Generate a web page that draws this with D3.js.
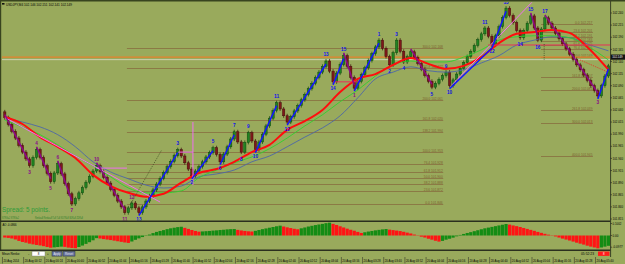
<!DOCTYPE html>
<html><head><meta charset="utf-8">
<script src="https://cdn.jsdelivr.net/npm/d3@7"></script>
<style>html,body{margin:0;padding:0;background:#99aa5c;overflow:hidden}svg{display:block}</style>
</head><body>
<script>
// ---------- DATA ----------
const closes = [
102.024,102.010,101.996,101.982,101.967,101.953,101.939,101.925,101.942,101.958,
101.942,101.925,101.909,101.892,101.910,101.929,101.908,101.888,101.867,101.846,
101.857,101.869,101.880,101.891,101.903,101.914,101.925,101.913,101.901,101.889,
101.876,101.864,101.852,101.840,101.828,101.838,101.848,101.838,101.828,101.840,
101.852,101.863,101.875,101.887,101.899,101.911,101.923,101.934,101.946,101.958,
101.945,101.931,101.918,101.904,101.914,101.923,101.933,101.943,101.952,101.962,
101.948,101.933,101.949,101.964,101.980,101.995,101.974,101.953,101.973,101.993,
101.976,101.958,101.974,101.990,102.007,102.023,102.039,102.055,102.042,102.028,
102.015,102.026,102.038,102.049,102.061,102.072,102.084,102.095,102.107,102.118,
102.130,102.141,102.120,102.098,102.116,102.134,102.152,102.130,102.107,102.085,
102.099,102.113,102.127,102.142,102.156,102.170,102.184,102.167,102.150,102.133,
102.158,102.184,102.161,102.139,102.150,102.160,102.148,102.136,102.124,102.111,
102.099,102.087,102.095,102.103,102.111,102.118,102.090,102.102,102.114,102.126,
102.138,102.150,102.161,102.173,102.185,102.197,102.209,102.192,102.174,102.193,
102.212,102.231,102.250,102.235,102.220,102.204,102.189,102.204,102.219,102.234,
102.209,102.184,102.207,102.230,102.219,102.209,102.198,102.187,102.176,102.166,
102.155,102.144,102.133,102.123,102.112,102.101,102.090,102.080,102.069,102.090,
102.110,102.131];

const aoValues = [
-0.017,-0.020,-0.025,-0.033,-0.045,-0.054,-0.060,-0.068,-0.074,-0.079,
-0.083,-0.089,-0.096,-0.102,-0.099,-0.096,-0.093,-0.095,-0.101,-0.104,
-0.106,-0.096,-0.084,-0.070,-0.056,-0.040,-0.022,-0.025,-0.030,-0.034,
-0.038,-0.043,-0.048,-0.053,-0.058,-0.062,-0.050,-0.036,-0.024,-0.013,
-0.003,0.008,0.020,0.030,0.038,0.045,0.053,0.060,0.065,0.070,
0.073,0.064,0.055,0.046,0.038,0.032,0.034,0.036,0.038,0.041,
0.043,0.046,0.048,0.051,0.053,0.054,0.047,0.042,0.038,0.035,
0.033,0.039,0.046,0.053,0.059,0.065,0.071,0.077,0.082,0.075,
0.068,0.062,0.056,0.052,0.060,0.067,0.075,0.081,0.087,0.092,
0.097,0.103,0.107,0.097,0.088,0.077,0.067,0.057,0.048,0.040,
0.030,0.021,0.027,0.033,0.038,0.043,0.047,0.051,0.054,0.049,
0.045,0.041,0.037,0.031,0.024,0.017,0.008,-0.002,-0.010,-0.017,
-0.027,-0.035,-0.044,-0.051,-0.045,-0.035,-0.027,-0.018,-0.007,0.005,
0.013,0.021,0.028,0.036,0.044,0.052,0.060,0.066,0.072,0.078,
0.084,0.090,0.096,0.091,0.084,0.078,0.071,0.063,0.055,0.047,
0.039,0.030,0.022,0.014,0.007,0.000,-0.008,-0.017,-0.026,-0.034,
-0.042,-0.051,-0.060,-0.068,-0.076,-0.085,-0.093,-0.100,-0.107,-0.100,
-0.093,-0.086];

const maBars  = [0,5,10,15,20,25,30,35,40,45,50,55,60,65,70,75,80,85,90,95,100,105,110,115,120,125,130,135,140,145,150,155,160,165,171];
const maRed   = [102.026,102.011,101.984,101.964,101.941,101.906,101.883,101.869,101.861,101.867,101.890,101.910,101.918,101.933,101.953,101.968,101.999,102.017,102.040,102.077,102.104,102.114,102.133,102.147,102.135,102.125,102.131,102.149,102.178,102.197,102.201,102.205,102.199,102.170,102.123];
const maGreen = [102.019,102.005,101.989,101.968,101.945,101.925,101.902,101.879,101.869,101.869,101.873,101.900,101.916,101.931,101.943,101.960,101.982,102.007,102.030,102.057,102.081,102.110,102.133,102.141,102.139,102.139,102.149,102.164,102.184,102.191,102.193,102.193,102.189,102.172,102.143];
const maBlue  = [102.024,102.015,102.005,101.989,101.964,101.933,101.912,101.898,101.885,101.879,101.883,101.902,101.908,101.916,101.933,101.945,101.964,101.984,102.003,102.028,102.065,102.104,102.118,102.129,102.121,102.118,102.123,102.137,102.152,102.174,102.184,102.191,102.189,102.176,102.162];

const pivotBars  = [7,9,13,15,19,26,34,36,38,49,53,59,61,65,67,69,71,77,80,91,93,96,99,106,109,111,113,121,125,126,136,138,142,146,149,151,153,168];
const pivotText  = ["3","4","5","6","7","10","11","12","13","3","2","5","6","7","8","9","10","11","12","13","14","15","1","1","2","3","4","5","9","10","11","12","13","14","15","16","17","3"];
const pivotSide  = [-1,1,-1,1,-1,1,-1,1,-1,1,-1,1,-1,1,-1,1,-1,1,-1,1,-1,1,-1,1,-1,1,-1,-1,1,-1,1,-1,1,-1,1,-1,1,-1];
const pivotTrend = ["d","d","d","d","d","d","d","d","u","u","u","u","u","u","u","u","u","u","u","u","u","u","d","u","u","u","u","u","u","u","u","u","u","u","u","u","u","d"];

const upLegs   = [[38,49],[53,59],[61,65],[71,77],[80,91],[93,96],[99,106],[126,138],[138,142],[168,171]];
const downLegs = [[0,7],[9,13],[15,19],[26,34],[96,99],[115,121],[149,151],[153,168]];

const fibLeftLevels  = [0,23.6,38.2,50,61.8,76.4,100,138.2,161.8,200,261.8,300];
const fibLeftPrices  = [101.846,101.872,101.888,101.900,101.912,101.928,101.953,101.994,102.020,102.061,102.127,102.168];
const fibLeftSpan    = [34.6,124.2];
const fibRightLevels = [0,23.6,38.2,50,61.8,76.4,100,161.8,200,261.8,300,400];
const fibRightPrices = [102.217,102.201,102.191,102.183,102.175,102.166,102.149,102.107,102.081,102.039,102.013,101.945];
const fibRightSpan   = [151.9,166.6];

// trend lines: [bar1, price1, bar2, price2]
const pinkLines = [[0.1,102.024,44.0,101.850],[126.7,102.092,149.3,102.262],[26.0,101.920,34.6,101.920],[49.1,101.953,53.3,101.953],[53.3,102.015,53.3,101.885]];
const redLevelLines = [[136.9,102.174,171.5,102.174],[93,102.098,100.5,102.098]];
const dottedLines = [[35.5,101.844,44.5,101.958],[152.8,102.176,152.8,102.143]];
const redDotted = [[163,102.143,170.9,102.118]];

const bidPrice = 102.149, askLine = 102.145;
const priceTicks = [102.240,102.215,102.190,102.165,102.140,102.115,102.090,102.065,102.040,102.015,101.990,101.965,101.940,101.915,101.890,101.865,101.840,101.815];
const aoTicks = [0.1002,0,-0.0977];
const aoTickText = ["0.1002","0.00","-0.0977"];
const timeLabels = ["20 Aug 2014","20 Aug 00:12","20 Aug 00:24","20 Aug 00:40","20 Aug 00:52","20 Aug 01:04","20 Aug 01:16","20 Aug 01:28","20 Aug 01:40","20 Aug 01:52","20 Aug 02:04","20 Aug 02:16","20 Aug 02:28","20 Aug 02:40","20 Aug 02:52","20 Aug 03:04","20 Aug 03:16","20 Aug 03:28","20 Aug 03:40","20 Aug 03:52","20 Aug 04:04","20 Aug 04:16","20 Aug 04:28","20 Aug 04:40","20 Aug 04:52","20 Aug 05:04","20 Aug 05:16","20 Aug 05:28","20 Aug 05:40"];
const timeStep = 6;
const headerText = "USDJPY,M4  102.146 102.151 102.141 102.149";
const spreadText = "Spread: 5 points.";
const aoTitle = "AO -0.0866";

// ---------- DRAW ----------
const W=625,H=264,BG="#99aa5c";
const FONT="'Liberation Sans',Arial,sans-serif";
const svg=d3.select("body").append("svg").attr("width",W).attr("height",H);
svg.append("rect").attr("width",W).attr("height",H).attr("fill",BG);

const x=d3.scaleLinear().domain([-0.5,171.5]).range([3,610.2]);
const y=d3.scaleLinear().domain([102.240,101.815]).range([13,219]);
const ya=d3.scaleLinear().domain([0.1002,-0.0977]).range([223.5,247.2]);

function tiny(g,px,py,str,o={}){
  const fs=o.fs||4;
  const t=g.append("text").attr("x",px).attr("y",py).attr("font-family",FONT)
    .attr("font-size",fs).attr("fill",o.fill||"#000").text(str);
  if(o.anchor) t.attr("text-anchor",o.anchor);
  if(o.weight) t.attr("font-weight",o.weight);
  const L=o.len!==undefined?o.len:str.length*(o.cw||1.52);
  t.attr("textLength",L).attr("lengthAdjust","spacingAndGlyphs");
  return t;
}

const defs=svg.append("defs");
defs.append("clipPath").attr("id","cm").append("rect").attr("x",2).attr("y",2).attr("width",608.5).attr("height",218.5);
defs.append("clipPath").attr("id","cs").append("rect").attr("x",2).attr("y",222).attr("width",608.5).attr("height",27.5);
const m=svg.append("g").attr("clip-path","url(#cm)");
const s=svg.append("g").attr("clip-path","url(#cs)");

// fib levels
function drawFib(levels,prices,span){
  levels.forEach((lv,k)=>{
    const yy=Math.round(y(prices[k]))+0.5;
    m.append("line").attr("x1",x(span[0])).attr("x2",x(span[1])).attr("y1",yy).attr("y2",yy)
      .attr("stroke","#8b7a45").attr("stroke-width",1);
    const str=(lv%1===0?lv.toFixed(1):String(lv))+"  "+prices[k].toFixed(3);
    tiny(m,x(span[1])-0.5,yy-0.9,str,{anchor:"end",fill:"#7a602e",fs:3.6,cw:1.45});
  });
}
drawFib(fibLeftLevels,fibLeftPrices,fibLeftSpan);
drawFib(fibRightLevels,fibRightPrices,fibRightSpan);

// bid/ask lines
m.append("line").attr("x1",2).attr("x2",610).attr("y1",y(bidPrice)).attr("y2",y(bidPrice)).attr("stroke","#e5822c").attr("stroke-width",1.4);
m.append("line").attr("x1",2).attr("x2",610).attr("y1",y(askLine)+0.6).attr("y2",y(askLine)+0.6).attr("stroke","#d9dcc8").attr("stroke-width",0.8);

// renko bars
closes.forEach((c,i)=>{
  const o=i?closes[i-1]:c+0.012;
  const up=c>=o;
  let y1=y(Math.max(o,c)), y2=y(Math.min(o,c));
  if(y2-y1<3){const mid=(y1+y2)/2;y1=mid-1.5;y2=mid+1.5;}
  const cx=x(i);
  m.append("line").attr("x1",cx).attr("x2",cx).attr("y1",y1-2).attr("y2",y2+2)
    .attr("stroke",up?"#0d430d":"#3a0a0a").attr("stroke-width",0.7);
  m.append("rect").attr("x",cx-1.15).attr("y",y1).attr("width",2.3).attr("height",y2-y1)
    .attr("fill",up?"#218421":"#7e1919").attr("stroke",up?"#0f4a0f":"#470c0c").attr("stroke-width",0.5);
});

// moving averages
function drawMA(vals,color,w){
  const line=d3.line().x((d,k)=>x(maBars[k])).y(d=>y(d)).curve(d3.curveMonotoneX);
  m.append("path").attr("d",line(vals)).attr("fill","none").attr("stroke",color).attr("stroke-width",w);
}
drawMA(maBlue,"#4d66a8",0.9);
drawMA(maGreen,"#2fd02f",0.9);
drawMA(maRed,"#ff0d0d",2);

// trend lines
function seg(arr,color,w,dash){
  arr.forEach(d=>{
    const l=m.append("line").attr("x1",x(d[0])).attr("y1",y(d[1])).attr("x2",x(d[2])).attr("y2",y(d[3]))
      .attr("stroke",color).attr("stroke-width",w);
    if(dash) l.attr("stroke-dasharray",dash);
  });
}
seg(pinkLines,"#ee70ee",1);
seg(redLevelLines,"#e8305a",1);
seg(dottedLines,"#3d4a22",0.8,"1,1.2");
seg(redDotted,"#ee2020",0.8,"1,1");

// zigzag legs
upLegs.forEach(([a,b])=>{
  m.append("line").attr("x1",x(a)).attr("y1",y(closes[a])+3).attr("x2",x(b)).attr("y2",y(closes[b])+3)
    .attr("stroke","#1414ff").attr("stroke-width",1.5);
});
downLegs.forEach(([a,b])=>{
  m.append("line").attr("x1",x(a)).attr("y1",y(closes[a])-3).attr("x2",x(b)).attr("y2",y(closes[b])-3)
    .attr("stroke","#8a0a8a").attr("stroke-width",1.5);
});

// pivot labels
pivotBars.forEach((b,k)=>{
  const py=pivotSide[k]>0? y(closes[b])-4.5 : y(closes[b])+8.5;
  const str=pivotText[k];
  tiny(m,x(b),py,str,{anchor:"middle",fs:5,weight:"bold",fill:pivotTrend[k]==="u"?"#1010ee":"#8a0a8a",len:str.length*2.6});
});

// sub window histogram
aoValues.forEach((v,i)=>{
  const up=i>0 && v>aoValues[i-1];
  const y0=ya(0),y1=ya(v);
  s.append("rect").attr("x",x(i)-1.6).attr("width",3.2).attr("y",Math.min(y0,y1)).attr("height",Math.max(0.3,Math.abs(y1-y0)))
    .attr("fill",up?"#148c14":"#ff1414");
});

// frames & separators
svg.append("line").attr("x1",0).attr("x2",W).attr("y1",0.8).attr("y2",0.8).attr("stroke","#38441f").attr("stroke-width",1.6);
svg.append("line").attr("x1",0.6).attr("x2",0.6).attr("y1",0).attr("y2",250).attr("stroke","#38441f").attr("stroke-width",1.2);
svg.append("line").attr("x1",0).attr("x2",611).attr("y1",221.2).attr("y2",221.2).attr("stroke","#2b2f1e").attr("stroke-width",1.6);
svg.append("line").attr("x1",0).attr("x2",611).attr("y1",250.2).attr("y2",250.2).attr("stroke","#2b2f1e").attr("stroke-width",1.6);
svg.append("line").attr("x1",610.6).attr("x2",610.6).attr("y1",0).attr("y2",257).attr("stroke","#3a4025").attr("stroke-width",1);

// price axis
priceTicks.forEach(p=>{
  const yy=y(p);
  svg.append("line").attr("x1",610.6).attr("x2",612).attr("y1",yy).attr("y2",yy).attr("stroke","#222").attr("stroke-width",0.6);
  tiny(svg,612.6,yy+1.2,p.toFixed(3),{len:10.4,fs:3.4});
});
svg.append("rect").attr("x",610.8).attr("y",y(bidPrice)-2.6).attr("width",14.2).attr("height",5.2).attr("fill","#141414");
tiny(svg,612.2,y(bidPrice)+1.3,bidPrice.toFixed(3),{len:10.4,fs:3.4,fill:"#f4f4f4"});

// ao axis
aoTicks.forEach((v,k)=>{
  const yy=ya(v);
  svg.append("line").attr("x1",610.6).attr("x2",612).attr("y1",yy).attr("y2",yy).attr("stroke","#222").attr("stroke-width",0.6);
  tiny(svg,612.6,yy+1.2,aoTickText[k],{len:aoTickText[k].length*1.45,fs:3.4});
});
tiny(svg,2.5,226,aoTitle,{len:14});

// header
svg.append("rect").attr("x",2).attr("y",3).attr("width",2.5).attr("height",1.6).attr("fill","#111");
tiny(svg,6,5.8,headerText,{len:66});

// spread + info rows
svg.append("text").attr("x",2).attr("y",211.6).attr("font-family",FONT).attr("font-size",7)
  .attr("fill","#2e9b3a").attr("textLength",48).attr("lengthAdjust","spacingAndGlyphs").text(spreadText);
tiny(svg,2,218.8,"STRG=2  STRG=2",{len:17,fill:"#2a7e2a",fs:3.4});
tiny(svg,35,218.8,"Renko=8  Renko=8  T=8  T=8  SDTR=8  SDR=8  ZDR=8",{len:48,fill:"#2a7e2a",fs:3.4});

// mean renko panel
tiny(svg,2,255,"Mean Renko:",{len:18});
tiny(svg,28,255,"-",{len:1.5});
svg.append("rect").attr("x",32).attr("y",251.4).attr("width",13).attr("height",4.6).attr("fill","#fff").attr("stroke","#777").attr("stroke-width",0.4);
tiny(svg,38.5,255.2,"8",{len:1.6,anchor:"middle"});
tiny(svg,47,255,"+",{len:1.6});
svg.append("rect").attr("x",52).attr("y",251.3).attr("width",10).attr("height",4.8).attr("fill","#66749a").attr("stroke","#2a2e48").attr("stroke-width",0.5);
svg.append("rect").attr("x",63).attr("y",251.3).attr("width",12).attr("height",4.8).attr("fill","#66749a").attr("stroke","#2a2e48").attr("stroke-width",0.5);
tiny(svg,57,254.8,"Apply",{len:7,anchor:"middle",fill:"#e8e8f0",fs:3.4});
tiny(svg,69,254.8,"Reset",{len:8,anchor:"middle",fill:"#e8e8f0",fs:3.4});
tiny(svg,581,254.8,"05:52:23",{len:13});
svg.append("rect").attr("x",598).attr("y",251.5).attr("width",11.5).attr("height",4.4).attr("fill","#ff1c1c");
tiny(svg,603.7,255.1,"8",{len:1.6,anchor:"middle",fill:"#fff"});

// time axis
timeLabels.forEach((t,k)=>{
  const xx=x(k*timeStep)-2.3;
  svg.append("line").attr("x1",xx).attr("x2",xx).attr("y1",257).attr("y2",263.5).attr("stroke","#222").attr("stroke-width",0.5);
  tiny(svg,xx+1,261.6,t,{len:t.length*1.42,fs:3.5});
});
</script>
</body></html>
